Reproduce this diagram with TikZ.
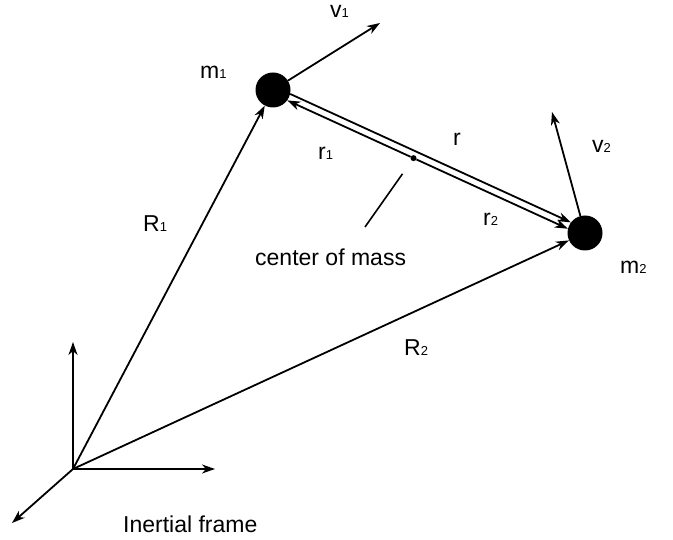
\documentclass[tikz,border=0pt]{standalone}
\usepackage{fontspec}
\setmainfont{Liberation Sans}
\usepackage{tikz}
\usetikzlibrary{arrows.meta,calc}
\newcommand{\idx}[1]{{\fontsize{13}{13}\selectfont #1}}

\begin{document}
\begin{tikzpicture}[
  x=1pt, y=-1pt,
  font=\fontsize{23}{27}\selectfont,
  vec/.style={-{Stealth[length=13pt,width=9pt,inset=4pt]}, line width=1.8pt},
  mass/.style={circle, fill=black, minimum size=35pt, inner sep=0pt},
  cmdot/.style={circle, fill=black, minimum size=6pt, inner sep=0pt},
  tag/.style={anchor=base west, inner sep=0pt}
]
\useasboundingbox (0,0) rectangle (673,540);

% Bodies
\node[mass] (m1) at (273,90) {};
\node[mass] (m2) at (585,233) {};
\node[cmdot] (cm) at ($(m1.-36.1)!0.45!(m2.166.8)$) {};

% Inertial frame
\coordinate (o) at (73,469);
\coordinate (ax1) at (73,342);
\coordinate (ax2) at (215,469);
\coordinate (ax3) at (12,523);
\draw[vec] (o) -- (ax1);
\draw[vec] (o) -- (ax2);
\draw[vec] (o) -- (ax3);

% Position vectors
\draw[vec] (o) -- (m1);
\draw[vec] (o) -- (m2);

% Velocities
\coordinate (v1tip) at (380,23);
\coordinate (v2tip) at (552,112);
\draw[vec] (m1) -- (v1tip);
\draw[vec] (m2) -- (v2tip);

% Relative vectors
\draw[vec] (m1.-13.1) -- (m2.143.8);
\draw[vec] (cm) -- (m1.-36.1);
\draw[vec] (cm) -- (m2.166.8);

% Pointer to center of mass
\coordinate (cmtail) at (365,227);
\draw[line width=1.6pt, shorten <=16pt] (cm) -- (cmtail);

% Labels
\node[tag] (lm1) at (200,79) {m\idx{1}};
\node[tag] (lv1) at (330,18) {v\idx{1}};
\node[tag] (lr) at (453,146) {r};
\node[tag] (lr1) at (318,160) {r\idx{1}};
\node[tag] (lv2) at (592,153) {v\idx{2}};
\node[tag] (lr2) at (483,226) {r\idx{2}};
\node[tag] (lR1) at (143,232) {R\idx{1}};
\node[tag] (lcm) at (255,266) {center of mass};
\node[tag] (lm2) at (620,274) {m\idx{2}};
\node[tag] (lR2) at (404,356) {R\idx{2}};
\node[tag] (lframe) at (123,532) {Inertial frame};

\end{tikzpicture}
\end{document}
